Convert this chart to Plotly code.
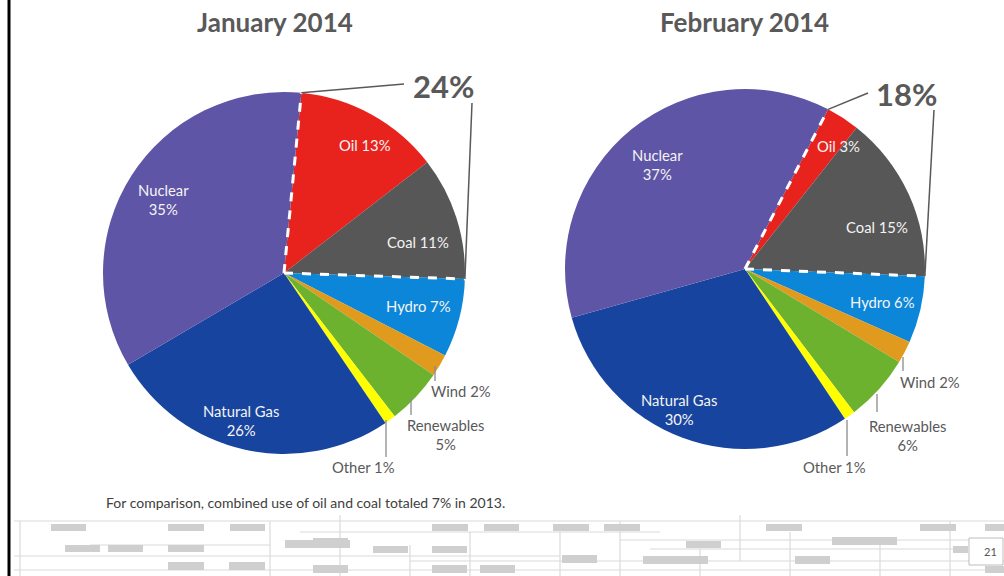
import math
import plotly.graph_objects as go

# ---------------- data ----------------
categories = ["Oil", "Coal", "Hydro", "Wind", "Renewables", "Other", "Natural Gas", "Nuclear"]
jan_values = [13, 11, 7, 2, 5, 1, 26, 35]
feb_values = [3, 15, 6, 2, 6, 1, 30, 37]
chart_titles = ["January 2014", "February 2014"]
highlight_totals = ["24%", "18%"]          # oil + coal share
footnote = "For comparison, combined use of oil and coal totaled 7% in 2013."
page_number = "21"

# ---------------- style ----------------
W, H = 1004, 576
FONT = "Lato"
colors = ["#E8231D", "#575757", "#0B86D8", "#E09A1E", "#6DB22F", "#FFFF00", "#17449E", "#5F55A6"]
GREY = "#595959"
LABEL_SIZE = 14.8


def px(x):
    return x / W


def py(y):
    return 1 - y / H


# pie geometry (pixels) and rotation
pies = [
    dict(values=jan_values, cx=284, cy=273, r=181, rot=5.5, title=chart_titles[0],
         total=highlight_totals[0], title_xy=(275, 22), total_xy=(443, 86),
         callout_mid=(404, 84), callout_top=(472, 103),
         inside={"Oil": (365, 145), "Coal": (418, 242), "Hydro": (418, 306),
                 "Nuclear": (163, 199), "Natural Gas": (241, 420)},
         outside={"Wind": ((461, 391), (435, 366, 381)),
                  "Renewables": ((445, 434), (411, 398, 415)),
                  "Other": ((363, 467), (386, 420, 457))}),
    dict(values=feb_values, cx=745, cy=269, r=180, rot=27.5, title=chart_titles[1],
         total=highlight_totals[1], title_xy=(744, 22), total_xy=(906, 94),
         callout_mid=(868, 93), callout_top=(934, 110),
         inside={"Oil": (838, 146), "Coal": (877, 227), "Hydro": (882, 302),
                 "Nuclear": (657, 164), "Natural Gas": (679, 409)},
         outside={"Wind": ((930, 382), (903, 357, 371)),
                  "Renewables": ((907, 435), (877, 394, 412)),
                  "Other": ((834, 467), (847, 420, 456))}),
]

fig = go.Figure()
shapes = []
annotations = []


def note(text, x, y, size, color, xanchor="center", bold=False):
    annotations.append(dict(text=f"<b>{text}</b>" if bold else text, x=px(x), y=py(y),
                            xref="paper", yref="paper", xanchor=xanchor, yanchor="middle",
                            showarrow=False, align="center",
                            font=dict(family=FONT, size=size, color=color)))


for p in pies:
    cx, cy, r = p["cx"], p["cy"], p["r"]
    fig.add_trace(go.Pie(
        labels=categories, values=p["values"], sort=False, direction="clockwise",
        rotation=p["rot"], textinfo="none", hoverinfo="label+percent",
        marker=dict(colors=colors, line=dict(color="white", width=0)),
        domain=dict(x=[px(cx - r), px(cx + r)], y=[py(cy + r), py(cy - r)]),
        showlegend=False,
    ))

    total = sum(p["values"])

    def edge(frac, rr=r):
        a = math.radians(p["rot"] + 360 * frac)
        return cx + rr * math.sin(a), cy - rr * math.cos(a)

    # dashed white boundaries around the oil+coal wedge
    oc = (p["values"][0] + p["values"][1]) / total
    x0, y0 = edge(0)
    x1, y1 = edge(oc)
    for (xe, ye) in [(x0, y0), (x1, y1)]:
        shapes.append(dict(type="line", xref="paper", yref="paper",
                           x0=px(cx), y0=py(cy), x1=px(xe), y1=py(ye),
                           line=dict(color="white", width=3, dash="dash")))

    # callout bracket to the big percentage
    mx, my = p["callout_mid"]
    tx, ty = p["callout_top"]
    shapes.append(dict(type="line", xref="paper", yref="paper",
                       x0=px(x0), y0=py(y0), x1=px(mx), y1=py(my),
                       line=dict(color=GREY, width=1.5)))
    shapes.append(dict(type="line", xref="paper", yref="paper",
                       x0=px(tx), y0=py(ty), x1=px(x1), y1=py(y1),
                       line=dict(color=GREY, width=1.5)))

    note(p["total"], *p["total_xy"], 31, GREY, bold=True)
    note(p["title"], *p["title_xy"], 26, GREY, bold=True)

    # inside labels
    for cat, (lx, ly) in p["inside"].items():
        v = p["values"][categories.index(cat)]
        txt = f"{cat}<br>{v}%" if cat in ("Nuclear", "Natural Gas") else f"{cat} {v}%"
        note(txt, lx, ly, LABEL_SIZE, "#F4F4F4")

    # outside labels with leader lines
    for cat, ((lx, ly), (lnx, ly0, ly1)) in p["outside"].items():
        v = p["values"][categories.index(cat)]
        txt = f"{cat}<br>{v}%" if cat == "Renewables" else f"{cat} {v}%"
        note(txt, lx, ly, LABEL_SIZE, GREY)
        shapes.append(dict(type="line", xref="paper", yref="paper",
                           x0=px(lnx), y0=py(ly0), x1=px(lnx), y1=py(ly1),
                           line=dict(color="#8A8A8A", width=1.3)))

# footnote
note(footnote, 104, 502, 14, "#404040", xanchor="left")

# left slide border
shapes.append(dict(type="line", xref="paper", yref="paper", x0=px(9), x1=px(9), y0=0, y1=1,
                   line=dict(color="black", width=3)))

# decorative circuit pattern at the bottom of the slide
deco_lines = [
    (14, 521, 1004, 521), (14, 556, 560, 556), (14, 570, 1004, 570), (300, 532, 660, 532),
    (620, 540, 1004, 540), (90, 545, 270, 545), (410, 561, 1004, 561), (650, 549, 960, 549),
    (20, 521, 20, 576), (270, 521, 270, 576), (340, 515, 340, 576), (620, 521, 620, 576),
    (470, 532, 470, 576), (740, 515, 740, 561), (950, 521, 950, 576), (560, 532, 560, 576),
    (880, 540, 880, 576), (410, 545, 410, 576), (790, 532, 790, 576), (700, 549, 700, 576),
]
for (a, b, c, d) in deco_lines:
    shapes.append(dict(type="line", xref="paper", yref="paper", x0=px(a), y0=py(b), x1=px(c), y1=py(d),
                       line=dict(color="#DADADA", width=1.2), layer="below"))

deco_rects = [
    (51, 524, 86, 531), (168, 524, 204, 531), (230, 524, 265, 531), (432, 524, 468, 531),
    (484, 524, 519, 531), (553, 524, 589, 531), (604, 524, 640, 531), (766, 524, 802, 531),
    (920, 524, 956, 531), (985, 524, 1004, 531),
    (65, 545, 100, 552), (108, 545, 143, 552), (168, 545, 204, 552), (285, 540, 350, 548),
    (373, 546, 408, 553), (432, 546, 467, 553), (686, 541, 721, 548), (832, 537, 897, 545),
    (953, 546, 968, 553),
    (168, 562, 204, 570), (229, 562, 265, 570), (313, 538, 348, 546), (562, 555, 597, 563),
    (643, 556, 708, 564), (795, 556, 830, 564), (313, 565, 348, 573), (432, 565, 467, 573),
    (480, 565, 515, 573), (985, 566, 1004, 573),
]
for (a, b, c, d) in deco_rects:
    shapes.append(dict(type="rect", xref="paper", yref="paper", x0=px(a), y0=py(b), x1=px(c), y1=py(d),
                       fillcolor="#CFCFCF", line=dict(width=0), layer="below"))

# page number box
shapes.append(dict(type="rect", xref="paper", yref="paper", x0=px(969), y0=py(538), x1=px(1003), y1=py(565),
                   fillcolor="white", line=dict(color="#BDBDBD", width=1)))
note(page_number, 990, 551, 11, "#555555")

fig.update_layout(
    width=W, height=H,
    margin=dict(l=0, r=0, t=0, b=0),
    paper_bgcolor="white", plot_bgcolor="white",
    shapes=shapes, annotations=annotations,
    font=dict(family=FONT),
)

fig.write_html("out.html", config={"displayModeBar": False},
               post_script="document.body.style.margin='0';document.body.style.overflow='hidden';")
